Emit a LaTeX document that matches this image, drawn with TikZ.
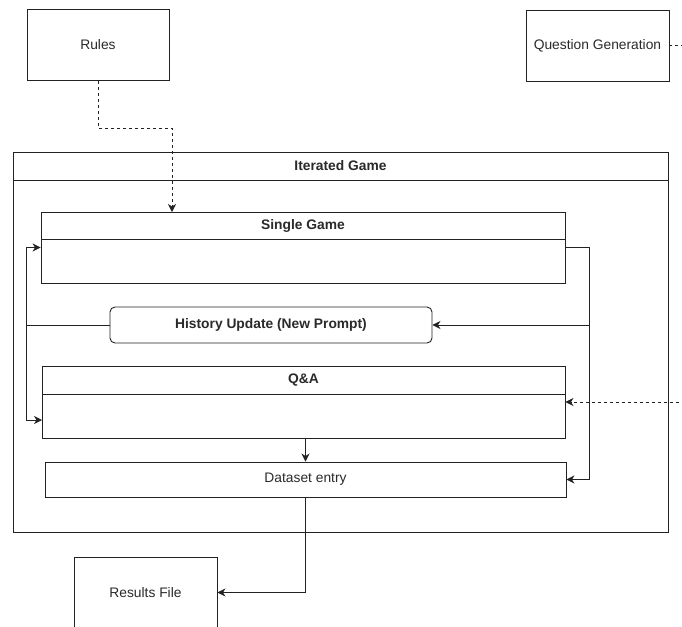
\documentclass[tikz,border=0pt]{standalone}
\usepackage{fontspec}
\setmainfont{Liberation Sans}
\usetikzlibrary{arrows.meta}
\definecolor{ln}{HTML}{222222}
\definecolor{tx}{HTML}{2A2A2A}
\begin{document}
\begin{tikzpicture}[x=1pt,y=-1pt,
  line width=0.9pt,
  every node/.style={font=\fontsize{13.8}{16}\selectfont, text=tx},
  box/.style={draw=ln, fill=white, inner sep=0pt, minimum width=#1},
  box/.default=143pt,
  tip/.style={-{Stealth[length=8pt,width=8pt,inset=2.5pt]}},
  conn/.style={draw=ln, tip},
  plainconn/.style={draw=ln},
  dashconn/.style={draw=ln, dash pattern=on 3pt off 3pt},
  title/.style={font=\bfseries\fontsize{13.8}{16}\selectfont, inner sep=0pt}
]
\useasboundingbox (0,0) rectangle (682,626);
\clip (0,0) rectangle (682,626);
\fill[white] (0,0) rectangle (682,626);

% top boxes
\node[box=142pt, minimum height=71pt] (rules) at (98,45) {Rules};
\node[box=143pt, minimum height=71pt] (qg) at (597.5,45.5) {Question Generation};

% container
\node[box=655pt, minimum height=380pt] (ig) at (340.5,342) {};
\draw[ln] (13,180) -- (668,180);
\node[title] (igt) at (340.5,166) {Iterated Game};

% single game
\node[box=524pt, minimum height=71pt] (sg) at (303,247.5) {};
\draw[ln] (41,239) -- (565,239);
\node[title] (sgt) at (303,225.5) {Single Game};

% history update
\node[box=322pt, minimum height=36pt, rounded corners=5pt, font=\bfseries\fontsize{13.8}{16}\selectfont] (hist) at (271,325) {History Update (New Prompt)};

% Q&A
\node[box=523pt, minimum height=72pt] (qa) at (303.5,402) {};
\draw[ln] (42,394) -- (565,394);
\node[title] (qat) at (303.5,380) {Q\&A};

% dataset entry
\node[box=521pt, minimum height=35pt] (ds) at (305.5,479.5) {Dataset entry};

% results file
\node[box=143pt, minimum height=71pt] (rf) at (145.5,592.5) {Results File};

% coordinates
\coordinate (r1) at (98,128);
\coordinate (r2) at (172,128);
\coordinate (r3) at (172,212);
\coordinate (s1) at (589,247.5);
\coordinate (s2) at (589,325);
\coordinate (s3) at (589,479.5);
\coordinate (h1) at (26,325);
\coordinate (qin) at (42,420);
\coordinate (q1) at (700,45.5);
\coordinate (q2) at (700,402);
\coordinate (d1) at (305.5,592.5);

% connectors
\draw[dashconn, tip] (rules.south) -- (r1) -- (r2) -- (r3);
\draw[dashconn, tip] (qg.east) -- (q1) -- (q2) -- (qa.east);
\draw[conn] (sg.east) -- (s1) -- (s3) -- (ds.east);
\draw[conn] (s2) -- (hist.east);
\draw[plainconn] (hist.west) -- (h1);
\draw[conn] (h1) |- (sg.west);
\draw[conn] (h1) |- (qin);
\draw[conn] (qa.south -| ds.north) -- (ds.north);
\draw[conn] (ds.south) -- (d1) -- (rf.east);
\end{tikzpicture}
\end{document}
